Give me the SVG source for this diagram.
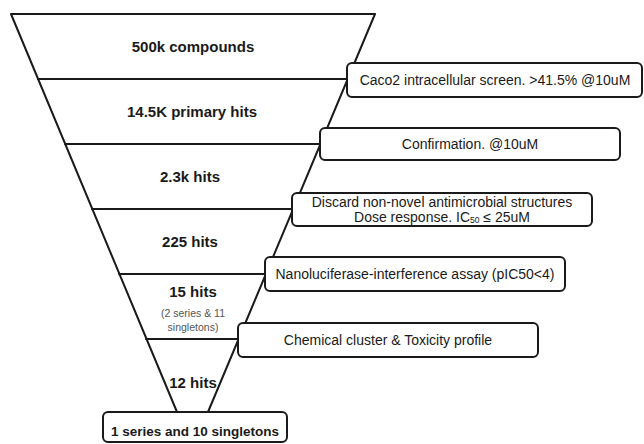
<svg xmlns="http://www.w3.org/2000/svg" width="644" height="444" viewBox="0 0 644 444">
<style>
.ln{stroke:#1a1a1a;stroke-width:2;fill:none;stroke-linecap:round}
.box{fill:#fff;stroke:#1a1a1a;stroke-width:2}
.t{font-family:"Liberation Sans",Arial,sans-serif;fill:#1a1a1a;text-anchor:middle}
.b{font-weight:bold;font-size:15px}
.n{font-size:14px}
.s{font-size:10.5px;fill:#555}
</style>
<rect width="644" height="444" fill="#fff"/>
<g id="connectors">
<path class="ln" d="M11,14 L375,14 M11,14 L177,412 M375,14 L208,412"/>
<path class="ln" d="M38,79 L348,79 M65,144 L320,144 M92,209 L294,209 M119,274 L266,274 M146,339 L240,339"/>
</g>
<g id="stage1"><text class="t b" x="193" y="52">500k compounds</text></g>
<g id="stage2"><text class="t b" x="192" y="117">14.5K primary hits</text></g>
<g id="stage3"><text class="t b" x="190" y="182">2.3k hits</text></g>
<g id="stage4"><text class="t b" x="190" y="247">225 hits</text></g>
<g id="stage5"><text class="t b" x="193" y="297">15 hits</text>
<text class="t s" x="193" y="317">(2 series &amp; 11</text>
<text class="t s" x="193" y="331">singletons)</text></g>
<g id="stage6"><text class="t b" x="193" y="388">12 hits</text></g>
<g id="box1"><rect class="box" x="347" y="63" width="295" height="34" rx="5"/>
<text class="t n" x="495" y="85">Caco2 intracellular screen. &gt;41.5% @10uM</text></g>
<g id="box2"><rect class="box" x="320" y="128" width="300" height="32" rx="5"/>
<text class="t n" x="470" y="149">Confirmation. @10uM</text></g>
<g id="box3"><rect class="box" x="292" y="193" width="300" height="33" rx="5"/>
<text class="t n" x="442" y="207">Discard non-novel antimicrobial structures</text>
<text class="t n" x="442" y="222">Dose response. IC<tspan font-size="8.5" dy="1">50</tspan><tspan dy="-1"> ≤ 25uM</tspan></text></g>
<g id="box4"><rect class="box" x="265" y="257" width="300" height="34" rx="5"/>
<text class="t n" x="415" y="279">Nanoluciferase-interference assay (pIC50&lt;4)</text></g>
<g id="box5"><rect class="box" x="238" y="323" width="300" height="34" rx="5"/>
<text class="t n" x="388" y="345">Chemical cluster &amp; Toxicity profile</text></g>
<g id="box6"><rect class="box" x="103" y="412" width="184" height="30" rx="5"/>
<text class="t" x="195" y="436" font-weight="bold" font-size="13.5px">1 series and 10 singletons</text></g>
</svg>
